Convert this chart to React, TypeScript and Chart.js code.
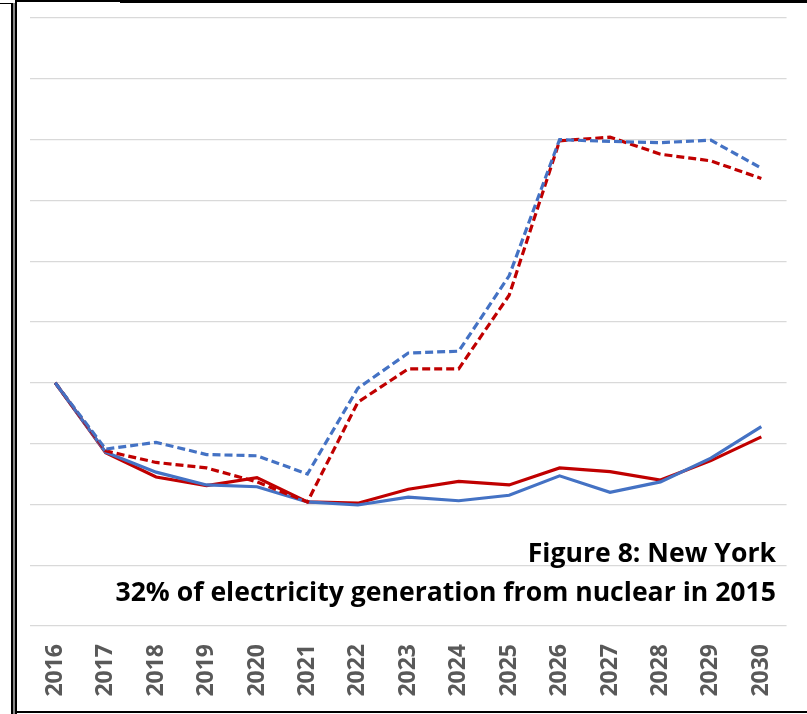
import React, { useEffect, useRef } from "react";
import { Chart, registerables } from "chart.js";

Chart.register(...registerables);

const years = ["2016", "2017", "2018", "2019", "2020", "2021", "2022", "2023", "2024", "2025", "2026", "2027", "2028", "2029", "2030"];
const blueSolid = [4.0, 2.86, 2.53, 2.32, 2.29, 2.04, 1.99, 2.12, 2.06, 2.15, 2.47, 2.2, 2.37, 2.76, 3.28];
const redSolid = [4.0, 2.85, 2.45, 2.31, 2.44, 2.04, 2.02, 2.25, 2.38, 2.32, 2.6, 2.54, 2.4, 2.72, 3.11];
const blueDashed = [4.0, 2.91, 3.02, 2.82, 2.8, 2.5, 3.91, 4.49, 4.52, 5.76, 8.0, 7.97, 7.95, 7.99, 7.53];
const redDashed = [4.0, 2.88, 2.69, 2.6, 2.37, 2.04, 3.68, 4.23, 4.23, 5.44, 7.98, 8.04, 7.76, 7.65, 7.36];
const titleLine1 = "Figure 8: New York";
const titleLine2 = "32% of electricity generation from nuclear in 2015";

const BLUE = "#4472C4";
const RED = "#C00000";

export default function App() {
  const ref = useRef<HTMLCanvasElement | null>(null);
  useEffect(() => {
    if (!ref.current) return;
    const chart = new Chart(ref.current, {
      type: "line",
      data: {
        labels: years,
        datasets: [
          { data: blueDashed, borderColor: BLUE, borderWidth: 3.2, borderDash: [8, 4], pointRadius: 0, fill: false, tension: 0 },
          { data: redDashed, borderColor: RED, borderWidth: 3.2, borderDash: [8, 4], pointRadius: 0, fill: false, tension: 0 },
          { data: blueSolid, borderColor: BLUE, borderWidth: 3.2, pointRadius: 0, fill: false, tension: 0 },
          { data: redSolid, borderColor: RED, borderWidth: 3.2, pointRadius: 0, fill: false, tension: 0 },
        ],
      },
      options: {
        animation: false,
        responsive: false,
        devicePixelRatio: 1,
        layout: { padding: { left: 30, right: 2, top: 18, bottom: 0 } },
        plugins: { legend: { display: false }, tooltip: { enabled: false }, title: { display: false } },
        scales: {
          x: {
            offset: true,
            grid: { display: false, drawTicks: false },
            border: { display: false },
            ticks: {
              maxRotation: 90,
              minRotation: 90,
              padding: 18,
              color: "#595959",
              font: { family: "Open Sans", weight: "bold", size: 23 },
            },
            afterFit: (s: any) => {
              s.height = 88;
            },
          },
          y: {
            min: 0,
            max: 10,
            grid: { color: "#d9d9d9", lineWidth: 1.3, drawTicks: false },
            border: { display: false },
            ticks: { display: false, stepSize: 1 },
            afterFit: (s: any) => {
              s.width = 0;
            },
          },
        },
      },
    });
    return () => chart.destroy();
  }, []);

  const textStyle: React.CSSProperties = {
    position: "absolute",
    right: 31,
    top: 533,
    textAlign: "right",
    fontFamily: "'Open Sans'",
    fontWeight: 700,
    fontSize: 26.6,
    lineHeight: "39px",
    color: "#000",
    whiteSpace: "nowrap",
  };

  return (
    <div style={{ position: "absolute", left: 0, top: 0, width: 807, height: 714, background: "#fff", overflow: "hidden" }}>
      <canvas ref={ref} width={807} height={714} style={{ position: "absolute", left: 0, top: 0, width: 807, height: 714 }} />
      <div style={textStyle}>
        <div>{titleLine1}</div>
        <div>{titleLine2}</div>
      </div>
      {/* frame lines */}
      <div style={{ position: "absolute", left: 0, top: 3, width: 13, height: 1, background: "#000" }} />
      <div style={{ position: "absolute", left: 11, top: 3, width: 2, height: 711, background: "#000" }} />
      <div style={{ position: "absolute", left: 13, top: 3, width: 2, height: 711, background: "#888" }} />
      <div style={{ position: "absolute", left: 15, top: 0, width: 2, height: 714, background: "#000" }} />
      <div style={{ position: "absolute", left: 15, top: 0, width: 105, height: 2, background: "#000" }} />
      <div style={{ position: "absolute", left: 120, top: 0, width: 687, height: 3, background: "#000" }} />
      <div style={{ position: "absolute", left: 15, top: 711, width: 792, height: 2, background: "#000" }} />
    </div>
  );
}
